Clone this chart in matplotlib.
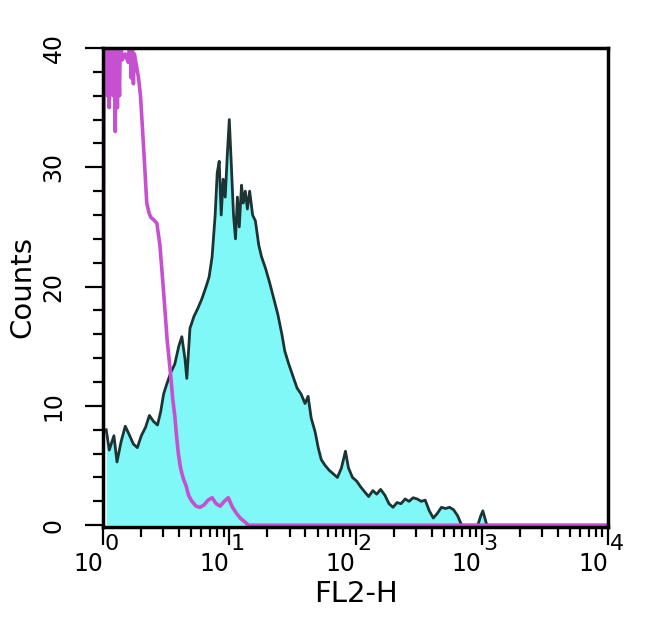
import matplotlib
matplotlib.use("Agg")
import matplotlib.pyplot as plt
from matplotlib.ticker import MultipleLocator, LogLocator, NullFormatter

plt.rcParams['font.family'] = ['DejaVu Sans']

# stained sample (cyan, filled)
fl2_stained = [1.06, 1.12, 1.22, 1.29, 1.39, 1.50, 1.61, 1.74, 1.87, 2.01,
               2.17, 2.33, 2.51, 2.70, 2.86, 3.02, 3.19, 3.44, 3.70, 3.98,
               4.21, 4.45, 4.61, 4.88, 5.25, 5.65, 6.08, 6.55, 6.92, 7.31,
               7.73, 8.02, 8.32, 8.63, 8.95, 9.29, 9.64, 10.0, 10.4, 10.8,
               11.2, 11.6, 12.0, 12.5, 12.9, 13.4, 13.9, 14.5, 15.3, 16.1,
               17.1, 18.0, 19.4, 20.9, 22.5, 24.2, 26.1, 27.5, 29.6, 31.9,
               34.4, 37.0, 39.8, 42.1, 44.5, 47.9, 50.6, 53.5, 57.5, 61.9,
               66.7, 71.8, 77.3, 83.2, 87.9, 94.6, 102, 110, 118, 127,
               137, 147, 158, 171, 184, 198, 213, 229, 247, 265,
               286, 308, 331, 356, 384, 413, 445, 479, 515, 555,
               597, 643, 692, 929, 982, 1019, 1057, 1096, 10000]
counts_stained = [8.0, 6.3, 7.5, 5.3, 7.0, 8.3, 7.6, 6.8, 6.5, 7.5,
                  8.2, 9.2, 8.7, 8.4, 9.5, 11.0, 11.8, 12.8, 13.5, 15.0,
                  15.8, 14.0, 12.3, 16.5, 17.5, 18.2, 19.0, 20.0, 20.8, 22.5,
                  26.0, 29.5, 30.5, 26.0, 29.0, 27.5, 31.0, 34.0, 30.0, 26.0,
                  24.0, 27.5, 25.0, 28.5, 27.0, 28.0, 26.5, 28.0, 26.0, 25.5,
                  23.5, 22.5, 21.5, 20.3, 19.0, 17.7, 16.0, 14.6, 13.5, 12.5,
                  11.5, 11.0, 10.2, 10.8, 9.0, 7.8, 6.5, 5.5, 5.0, 4.6,
                  4.3, 4.0, 4.8, 6.2, 4.8, 4.0, 3.7, 3.2, 2.8, 2.4,
                  2.9, 2.6, 3.0, 2.5, 1.8, 1.5, 1.9, 1.8, 2.2, 2.0,
                  2.3, 2.2, 2.0, 2.1, 1.2, 0.6, 1.0, 1.5, 1.4, 1.5,
                  1.3, 0.8, 0.0, 0.0, 0.8, 1.2, 0.6, 0.0, 0.0]

# isotype control (magenta, outline only)
fl2_control = [1.00, 1.02, 1.04, 1.06, 1.08, 1.10, 1.12, 1.14, 1.16, 1.18,
               1.20, 1.22, 1.25, 1.27, 1.30, 1.32, 1.35, 1.37, 1.42, 1.50,
               1.58, 1.64, 1.67, 1.71, 1.74, 1.77, 1.84, 1.91,
               1.98, 2.06, 2.14, 2.22, 2.31, 2.39, 2.52, 2.67, 2.82, 2.92,
               3.02, 3.12, 3.22, 3.33, 3.45, 3.57, 3.70, 3.82, 3.95, 4.08,
               4.22, 4.36, 4.55, 4.76, 5.06, 5.45, 5.86, 6.31, 6.79, 7.31,
               7.87, 8.47, 9.12, 9.82, 10.6, 11.4, 12.2, 13.2, 14.2, 10000]
counts_control = [0, 42, 37, 41, 36, 42, 35, 41, 37, 42,
                  36, 41, 33, 40, 35, 41, 36, 41, 39, 39.5,
                  38.8, 41, 37.5, 40, 37, 39.5, 38.5, 37.5,
                  36, 33, 30, 27, 26.2, 25.8, 25.6, 25.3, 23.5, 21.5,
                  19.5, 17.5, 15.5, 14.0, 12.3, 10.5, 9.2, 7.5, 6.0, 5.0,
                  4.3, 3.8, 3.3, 2.5, 2.0, 1.6, 1.5, 1.7, 2.1, 2.3,
                  1.8, 1.6, 2.0, 2.3, 1.5, 1.0, 0.6, 0.3, 0, 0]

decades = [1, 10, 100, 1000, 10000]
exponents = ['0', '1', '2', '3', '4']
yticks = [0, 10, 20, 30, 40]

fig = plt.figure(figsize=(6.5, 6.27), dpi=100)
ax = fig.add_axes([0.1585, 0.1595, 0.777, 0.764])

ax.fill_between(fl2_stained, counts_stained, 0, color='#80f8f8', lw=0)
ax.plot(fl2_stained, counts_stained, color='#1c3434', lw=2.0)
ax.plot(fl2_control, counts_control, color='#c650d0', lw=2.6)

ax.set_xscale('log')
ax.set_xlim(1, 10000)
ax.set_ylim(-0.15, 40)

ax.set_yticks(yticks)
ax.set_yticklabels([str(v) for v in yticks], rotation=90, va='center', fontsize=17)
ax.yaxis.set_minor_locator(MultipleLocator(2))

ax.set_xticks(decades)
ax.set_xticklabels(['10'] * len(decades), ha='right', fontsize=17)
ax.xaxis.set_minor_locator(LogLocator(base=10, subs=range(2, 10)))
ax.xaxis.set_minor_formatter(NullFormatter())
for d, e in zip(decades, exponents):
    ax.annotate(e, xy=(d, 0), xycoords=('data', 'axes fraction'),
                xytext=(1, -5), textcoords='offset points',
                ha='left', va='top', fontsize=16, annotation_clip=False)

ax.tick_params(axis='both', which='major', direction='out', length=13,
               width=1.6, color='black')
ax.tick_params(axis='both', which='minor', direction='out', length=7,
               width=1.6, color='black')
ax.tick_params(axis='y', which='major', pad=14)
ax.tick_params(axis='x', which='major', pad=5)

for s in ax.spines.values():
    s.set_linewidth(2.5)

ax.set_xlabel('FL2-H', fontsize=21, labelpad=3)
ax.set_ylabel('Counts', fontsize=21, labelpad=4)

fig.savefig('out.png', dpi=100)
